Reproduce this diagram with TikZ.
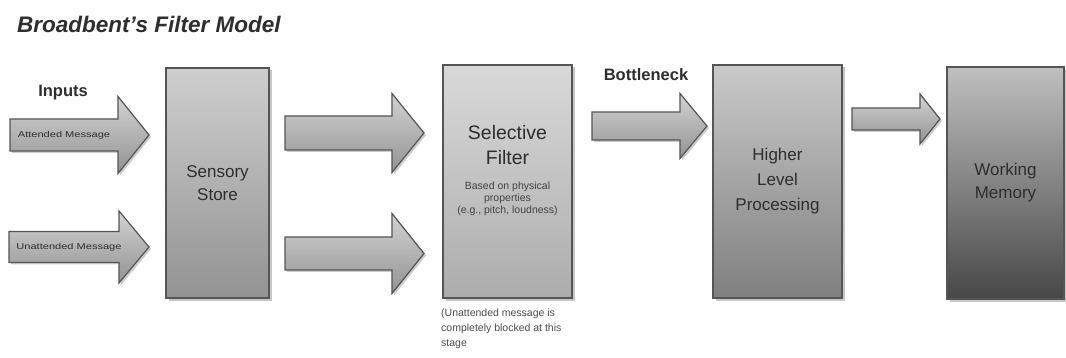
\documentclass[tikz,border=0pt]{standalone}
\usepackage{fontspec}
\setmainfont{Liberation Sans}
\usepackage{graphicx}
\usetikzlibrary{shadows}

\definecolor{edgegray}{HTML}{555555}
\definecolor{inkgray}{HTML}{2E2E2E}

\tikzset{
  stagebox/.style={draw=edgegray, line width=1.3pt, inner sep=0pt,
    drop shadow={shadow xshift=2.5pt, shadow yshift=-2.5pt, fill=black, opacity=0.22}},
  arrowbody/.style={draw=edgegray, line width=1.2pt, line join=miter,
    top color=gray!35, bottom color=gray!85!white,
    drop shadow={shadow xshift=2pt, shadow yshift=-2pt, fill=black, opacity=0.2}},
  boxtext/.style={text=inkgray, align=center, font=\fontsize{17}{23}\selectfont},
  smalltext/.style={text=inkgray!90, align=center, font=\fontsize{10.5}{12}\selectfont},
  heading/.style={text=inkgray, font=\bfseries\fontsize{16.5}{19}\selectfont},
  arrowlabel/.style={text=inkgray, font=\fontsize{8.5}{10}\selectfont, inner sep=0pt}
}

% block arrow: name, tail x, head base x, tip x, centre y, shaft half height, head half height
\newcommand\blockarrow[7]{%
  \draw[arrowbody] (#2,#5-#6) -- (#3,#5-#6) -- (#3,#5-#7) -- (#4,#5)
     -- (#3,#5+#7) -- (#3,#5+#6) -- (#2,#5+#6) -- cycle;
  \coordinate (#1) at ({(#2+#3)/2},#5);
}

\begin{document}
\begin{tikzpicture}[x=1pt, y=-1pt]
  \useasboundingbox[fill=white] (0,0) rectangle (1066,358);

  % title
  \node[anchor=base west, inner sep=0pt, text=inkgray,
        font=\bfseries\itshape\fontsize{22.5}{26}\selectfont] (title) at (17,33)
        {Broadbent's Filter Model};

  % processing stages
  \node[stagebox, top color=gray!38, bottom color=gray!85!white,
        minimum width=103pt, minimum height=230pt] (store) at (217.5,183) {};
  \node[boxtext] (storetext) at (store.center) {Sensory\\Store};

  \node[stagebox, top color=gray!30, bottom color=gray!65!white,
        minimum width=129pt, minimum height=233pt] (filter) at (507.5,181.5) {};
  \node[boxtext, font=\fontsize{19.5}{25}\selectfont] (filtertext) at (507.5,145) {Selective\\Filter};
  \node[smalltext] (filternote) at (507.5,198.5) {Based on physical\\properties\\(e.g., pitch, loudness)};

  \node[stagebox, top color=gray!42, bottom color=gray!100!black!100,
        minimum width=129pt, minimum height=233pt] (higher) at (777.5,181.5) {};
  \node[boxtext, font=\fontsize{17}{25}\selectfont] (highertext) at (higher.center) {Higher\\Level\\Processing};

  \node[stagebox, top color=gray!50, bottom color=black!72,
        minimum width=117pt, minimum height=232pt] (memory) at (1005.5,183) {};
  \node[boxtext] (memorytext) at (memory.center) {Working\\Memory};

  % block arrows between the stages
  \blockarrow{attended}{10}{118}{149}{135}{16}{38.5}
  \blockarrow{unattended}{9}{119}{149}{247}{15.5}{36}
  \blockarrow{upperpass}{285}{392}{424}{133}{17}{39.5}
  \blockarrow{lowerpass}{285}{392}{424}{253.5}{16.5}{40}
  \blockarrow{bottleneck}{592}{680}{707}{126}{14}{32.5}
  \blockarrow{tomemory}{852}{920}{940}{119}{11}{25}

  % arrow labels
  \node[arrowlabel] (attlabel) at (attended) {\scalebox{1.3}[1]{Attended Message}};
  \node[arrowlabel] (unattlabel) at ([xshift=5pt]unattended) {\scalebox{1.3}[1]{Unattended Message}};

  \node[heading] (inputs) at (63,93) {Inputs};
  \node[heading] (neck) at (646,75) {Bottleneck};

  % note beneath the selective filter
  \node[anchor=north west, align=left, inner sep=0pt, text=inkgray!85,
        font=\fontsize{10.5}{15}\selectfont] (blocked) at (441,309)
        {(Unattended message is\\completely blocked at this\\stage};
\end{tikzpicture}
\end{document}
